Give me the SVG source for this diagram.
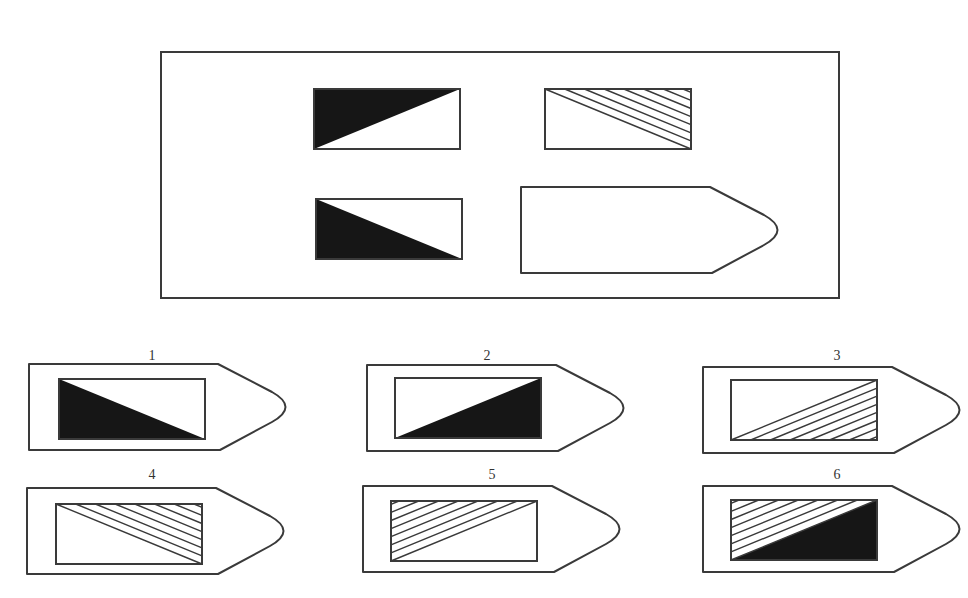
<svg xmlns="http://www.w3.org/2000/svg" width="968" height="598" viewBox="0 0 968 598">
<style>
.ln{fill:none;stroke:#3a3a3a;stroke-width:2}
.hl{fill:none;stroke:#3a3a3a;stroke-width:1.4}
.blk{fill:#161616;stroke:none}
.pent{fill:#fff;stroke:#3a3a3a;stroke-width:2;stroke-linejoin:round}
.lbl{font-family:"Liberation Serif",serif;font-size:14px;fill:#333;text-anchor:middle}
</style>
<defs>
<path id="pent" d="M0,0 H189 L243,28 C261,38 261,48 243,58 L191,86 H0 Z"/>
<rect id="box" x="0" y="0" width="146" height="60"/>
<g id="hUR"><path d="M0,0L146,60M19.7,0L146,51.9M39.4,0L146,43.8M59.1,0L146,35.7M78.8,0L146,27.6M98.6,0L146,19.5M118.3,0L146,11.4M138,0L146,3.3"/></g>
<g id="hLR"><path d="M0,60L146,0M19.7,60L146,8.1M39.4,60L146,16.2M59.1,60L146,24.3M78.8,60L146,32.4M98.6,60L146,40.5M118.3,60L146,48.6M138,60L146,56.7"/></g>
<g id="hUL"><path d="M0,60L146,0M0,51.9L126.3,0M0,43.8L106.6,0M0,35.7L86.9,0M0,27.6L67.2,0M0,19.5L47.5,0M0,11.4L27.7,0M0,3.3L8,0"/></g>
<polygon id="tUL" points="0,0 146,0 0,60"/>
<polygon id="tLL" points="0,0 0,60 146,60"/>
<polygon id="tLR" points="146,0 146,60 0,60"/>
</defs>
<rect width="968" height="598" fill="#fff"/>
<g id="frame"><rect class="ln" x="161" y="52" width="678" height="246"/></g>
<g id="q1" transform="translate(314,89)"><use href="#tUL" class="blk"/><use href="#box" class="ln"/></g>
<g id="q2" transform="translate(545,89)"><use href="#hUR" class="hl"/><use href="#box" class="ln"/></g>
<g id="q3" transform="translate(316,199)"><use href="#tLL" class="blk"/><use href="#box" class="ln"/></g>
<g id="q4" transform="translate(521,187)"><use href="#pent" class="pent"/></g>
<g id="opt1">
<text class="lbl" x="152" y="360">1</text>
<use href="#pent" class="pent" x="29" y="364"/>
<g transform="translate(59,379)"><use href="#tLL" class="blk"/><use href="#box" class="ln"/></g>
</g>
<g id="opt2">
<text class="lbl" x="487" y="360">2</text>
<use href="#pent" class="pent" x="367" y="365"/>
<g transform="translate(395,378)"><use href="#tLR" class="blk"/><use href="#box" class="ln"/></g>
</g>
<g id="opt3">
<text class="lbl" x="837" y="360">3</text>
<use href="#pent" class="pent" x="703" y="367"/>
<g transform="translate(731,380)"><use href="#hLR" class="hl"/><use href="#box" class="ln"/></g>
</g>
<g id="opt4">
<text class="lbl" x="152" y="479">4</text>
<use href="#pent" class="pent" x="27" y="488"/>
<g transform="translate(56,504)"><use href="#hUR" class="hl"/><use href="#box" class="ln"/></g>
</g>
<g id="opt5">
<text class="lbl" x="492" y="479">5</text>
<use href="#pent" class="pent" x="363" y="486"/>
<g transform="translate(391,501)"><use href="#hUL" class="hl"/><use href="#box" class="ln"/></g>
</g>
<g id="opt6">
<text class="lbl" x="837" y="479">6</text>
<use href="#pent" class="pent" x="703" y="486"/>
<g transform="translate(731,500)"><use href="#tLR" class="blk"/><use href="#hUL" class="hl"/><use href="#box" class="ln"/></g>
</g>
<g id="connectors"/>
</svg>
